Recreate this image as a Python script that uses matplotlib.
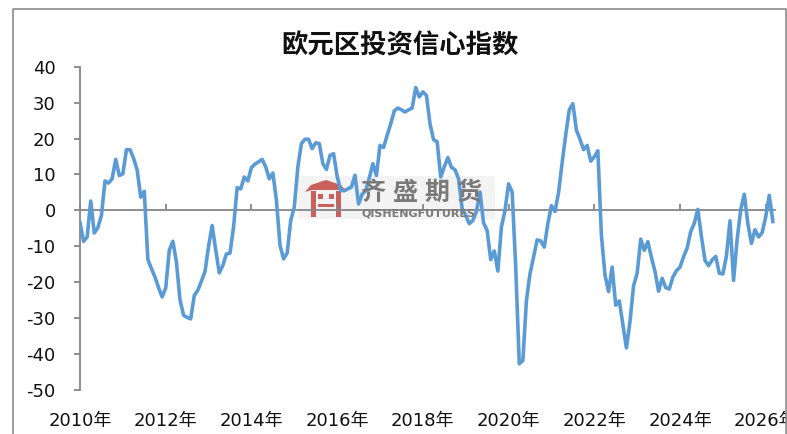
import numpy as np
import matplotlib.pyplot as plt
from matplotlib.patches import Rectangle, Polygon
from matplotlib.lines import Line2D

plt.rcParams['font.family'] = ['DejaVu Sans', 'Noto Sans CJK SC']

# Sentix euro area investor confidence, monthly from Jan 2010
sentix = [
    # 2010
    -3.4, -8.6, -7.4, 2.6, -6.3, -4.8, -1.4, 8.2, 7.6, 8.8, 14.2, 9.7,
    # 2011
    10.2, 16.9, 16.9, 14.5, 11.3, 3.7, 5.3, -13.7, -16.2, -18.6, -21.5, -24.1,
    # 2012
    -21.6, -11.1, -8.6, -14.4, -24.9, -29.2, -29.8, -30.2, -23.7, -22.2, -19.7, -17.0,
    # 2013
    -10.0, -4.2, -11.0, -17.4, -15.3, -12.1, -11.9, -4.6, 6.3, 6.0, 9.3, 8.2,
    # 2014
    11.9, 12.9, 13.5, 14.2, 12.1, 8.8, 10.4, 2.8, -9.7, -13.5, -11.9, -2.8,
    # 2015
    0.9, 12.1, 18.6, 19.8, 19.8, 17.2, 18.8, 18.6, 13.0, 11.4, 15.3, 15.8,
    # 2016
    9.5, 5.5, 5.5, 6.0, 6.5, 9.8, 1.8, 4.5, 5.5, 9.0, 13.0, 9.7,
    # 2017
    18.1, 17.5, 20.9, 24.1, 27.7, 28.5, 28.0, 27.4, 28.0, 28.5, 34.2, 31.6,
    # 2018
    33.0, 32.0, 24.1, 19.7, 19.1, 9.3, 12.1, 14.7, 12.0, 11.3, 8.8, 0.5,
    # 2019
    -1.4, -3.7, -2.8, -0.3, 5.1, -3.5, -5.6, -13.7, -11.3, -16.9, -4.6, 0.0,
    # 2020
    7.4, 5.1, -15.8, -42.7, -41.8, -25.1, -17.6, -13.0, -8.2, -8.5, -10.2, -3.7,
    # 2021
    1.3, -0.3, 5.0, 13.3, 21.0, 28.0, 29.7, 22.3, 19.8, 16.9, 18.1, 13.7,
    # 2022
    14.9, 16.6, -7.0, -18.0, -22.6, -15.8, -26.4, -25.2, -31.8, -38.3, -30.9, -21.0,
    # 2023
    -17.5, -8.0, -11.1, -8.7, -13.1, -17.0, -22.5, -18.9, -21.5, -21.9, -18.6, -16.8,
    # 2024
    -15.8, -12.9, -10.5, -5.9, -3.6, 0.3, -7.3, -13.9, -15.4, -13.8, -12.8, -17.5,
    # 2025
    -17.7, -12.7, -2.9, -19.5, -8.1, 0.2, 4.5, -3.7, -9.2, -5.4, -7.4, -6.2,
    # 2026
    -1.8, 4.2, -3.1,
]
year_ticks = [0, 24, 48, 72, 96, 120, 144, 168, 192]
year_labels = ['2010年', '2012年', '2014年', '2016年', '2018年',
               '2020年', '2022年', '2024年', '2026年']
y_ticks = [40, 30, 20, 10, 0, -10, -20, -30, -40, -50]

W, H = 787, 434
fig = plt.figure(figsize=(W / 100, H / 100), dpi=100)
ax = fig.add_axes([80 / W, 1 - 390 / H, 695 / W, (390 - 66.7) / H])
ax.patch.set_facecolor('none')

axis_gray = '#868686'

# pixel -> figure fraction helpers
def fx(px):
    return px / W

def fy(py):
    return 1 - py / H

# watermark behind the line
ax.add_patch(Rectangle((fx(298), fy(219)), fx(495) - fx(298), fy(176) - fy(219),
                       transform=fig.transFigure, facecolor='#f3f3f3',
                       edgecolor='none', zorder=0.5))
logo_red = '#c9605b'
roof = [(305, 192), (311, 185), (326, 180), (341, 185), (347, 192), (340, 190), (312, 190)]
ax.add_patch(Polygon([(fx(a), fy(b)) for a, b in roof], closed=True,
                     transform=fig.transFigure, facecolor=logo_red,
                     edgecolor='none', zorder=0.6))
for rx, ry, rw, rh in [(311, 191, 5, 26), (336, 191, 5, 26), (318, 204, 16, 3),
                       (318, 194, 5, 5), (329, 194, 5, 5)]:
    ax.add_patch(Rectangle((fx(rx), fy(ry + rh)), rw / W, rh / H,
                           transform=fig.transFigure, facecolor=logo_red,
                           edgecolor='none', zorder=0.6))
for i, ch in enumerate('齐盛期货'):
    fig.text(fx(373 + i * 32), fy(193), ch, ha='center', va='center',
             fontsize=18, fontweight='bold', color='#7a7a7a',
             family='Noto Sans CJK SC', zorder=0.7)
fig.text(fx(419), fy(213), 'QISHENGFUTURES', ha='center', va='center',
         fontsize=8, fontweight='bold', color='#7a7a7a', zorder=0.7)

ax.plot(np.arange(len(sentix)), sentix, color='#5B9BD5', linewidth=2.6,
        solid_joinstyle='round', zorder=3)

ax.set_xlim(0, 194.6)
ax.set_ylim(-50, 40)
ax.set_yticks(y_ticks)
ax.set_yticklabels([str(v) for v in y_ticks])
ax.set_xticks(year_ticks)
ax.set_xticklabels([])

for s in ['top', 'right']:
    ax.spines[s].set_visible(False)
ax.spines['bottom'].set_position(('data', 0))
for s in ['bottom', 'left']:
    ax.spines[s].set_color(axis_gray)
    ax.spines[s].set_linewidth(1.3)
    ax.spines[s].set_zorder(2.5)

ax.tick_params(axis='y', direction='out', length=4.5, width=1.3, color=axis_gray,
               labelsize=13, pad=13, labelcolor='#111111')
ax.tick_params(axis='x', direction='in', length=4.5, width=1.3, color=axis_gray)

for xt, lab in zip(year_ticks, year_labels):
    ax.text(xt, -58.6, lab, ha='center', va='center', fontsize=13,
            color='#111111', clip_on=False)

fig.text(fx(400), fy(46.5), '欧元区投资信心指数', ha='center', va='center',
         fontsize=19, fontweight='bold', family='Noto Sans CJK SC', color='#111111')

# outer chart frame (open at the bottom, cut by the picture)
fig.add_artist(Line2D([fx(12.5), fx(12.5), fx(785.5), fx(785.5)],
                      [fy(440), fy(8.5), fy(8.5), fy(440)],
                      transform=fig.transFigure, color='#8c8c8c', linewidth=1.2))

fig.savefig('out.png', dpi=100)
